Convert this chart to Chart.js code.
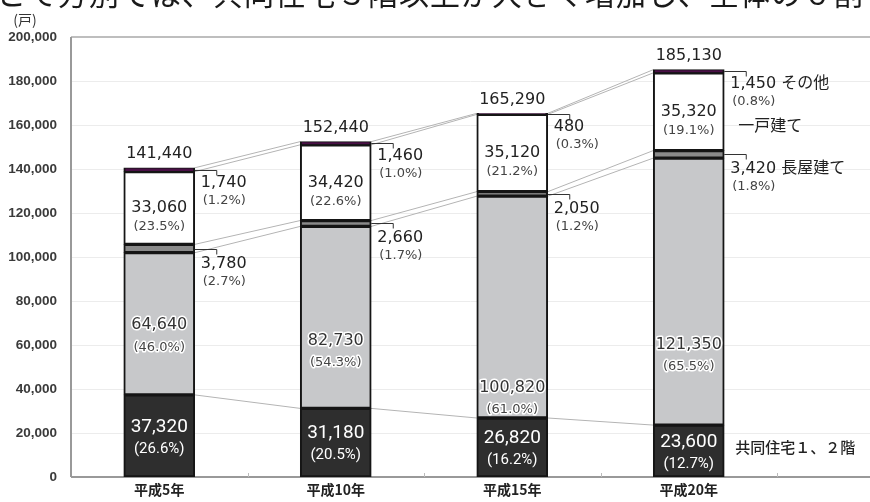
<!DOCTYPE html>
<html>
<head>
<meta charset="utf-8">
<script src="https://cdn.jsdelivr.net/npm/chart.js@4/dist/chart.umd.min.js"></script>
<style>
  html, body { margin: 0; padding: 0; background: #fff; overflow: hidden; }
  #wrap { width: 870px; height: 502px; position: relative; }
</style>
</head>
<body>
<div id="wrap"><canvas id="c" width="870" height="502"></canvas></div>
<script>
// 建て方別住宅数（戸）
const years = ['平成5年', '平成10年', '平成15年', '平成20年'];
const lowRise  = [37320, 31180, 26820, 23600];    // 共同住宅1、2階
const highRise = [64640, 82730, 100820, 121350];  // 共同住宅3階以上
const rowHouse = [3780, 2660, 2050, 3420];        // 長屋建て
const detached = [33060, 34420, 35120, 35320];    // 一戸建て
const other    = [1740, 1460, 480, 1450];         // その他
const totals   = [141440, 152440, 165290, 185130];

const lowRisePct  = [26.6, 20.5, 16.2, 12.7];
const highRisePct = [46.0, 54.3, 61.0, 65.5];
const rowHousePct = [2.7, 1.7, 1.2, 1.8];
const detachedPct = [23.5, 22.6, 21.2, 19.1];
const otherPct    = [1.2, 1.0, 0.3, 0.8];

const yTicks = [0, 20000, 40000, 60000, 80000, 100000, 120000, 140000, 160000, 180000, 200000];

// where the 3階以上 labels sit inside their (tall) segments, in axis units
const highRiseLabelAt = [69000, 61800, 40400, 60000];

const headline = 'とて方別では、共同住宅３階以上が大きく増加し、全体の６割';

const NUM = '"DejaVu Sans", "Noto Sans CJK JP", sans-serif';
const JP = '"Noto Sans CJK JP", sans-serif';
const NARROW = 'Roboto, "DejaVu Sans", sans-serif';

const fmt = v => v.toLocaleString('en-US');
const pct = v => '(' + v.toFixed(1) + '%)';

function text(ctx, s, x, y, font, color, align, halo) {
  ctx.save();
  ctx.font = font;
  ctx.textAlign = align || 'center';
  ctx.textBaseline = 'middle';
  if (halo) {
    ctx.lineJoin = 'round';
    ctx.lineWidth = 3;
    ctx.strokeStyle = halo;
    ctx.strokeText(s, x, y);
  }
  ctx.fillStyle = color;
  ctx.fillText(s, x, y);
  ctx.restore();
}

const decor = {
  id: 'decor',
  beforeDatasetsDraw(chart) {
    const { ctx, chartArea: a, scales: { y } } = chart;
    const W = chart.width;
    ctx.save();
    // faint horizontal grid
    ctx.strokeStyle = '#ececec';
    ctx.lineWidth = 1;
    yTicks.forEach(t => {
      if (t === 0 || t === 200000) return;
      const py = Math.round(y.getPixelForValue(t)) + 0.5;
      ctx.beginPath(); ctx.moveTo(a.left, py); ctx.lineTo(W, py); ctx.stroke();
    });
    // frame
    ctx.strokeStyle = '#a8a8a8';
    ctx.lineWidth = 1.5;
    ctx.beginPath(); ctx.moveTo(a.left, a.top); ctx.lineTo(W, a.top); ctx.stroke();
    ctx.strokeStyle = '#999';
    ctx.lineWidth = 2;
    ctx.beginPath(); ctx.moveTo(a.left, a.top); ctx.lineTo(a.left, a.bottom); ctx.stroke();
    ctx.beginPath(); ctx.moveTo(a.left, a.bottom); ctx.lineTo(W, a.bottom); ctx.stroke();
    // small marks between categories
    ctx.strokeStyle = '#bbb';
    ctx.lineWidth = 1;
    const step = (a.right - a.left) / years.length;
    for (let k = 1; k <= years.length; k++) {
      const px = Math.round(a.left + k * step) + 0.5;
      ctx.beginPath(); ctx.moveTo(px, a.bottom - 4); ctx.lineTo(px, a.bottom); ctx.stroke();
    }
    // connector lines between neighbouring bars at each stack boundary
    const series = [lowRise, highRise, rowHouse, detached, other];
    ctx.strokeStyle = '#b4b4b4';
    ctx.lineWidth = 1;
    const m0 = chart.getDatasetMeta(0).data;
    for (let i = 0; i < years.length - 1; i++) {
      let c1 = 0, c2 = 0;
      const r = m0[i].x + m0[i].width / 2;
      const l = m0[i + 1].x - m0[i + 1].width / 2;
      series.forEach(s => {
        c1 += s[i]; c2 += s[i + 1];
        ctx.beginPath();
        ctx.moveTo(r, y.getPixelForValue(c1));
        ctx.lineTo(l, y.getPixelForValue(c2));
        ctx.stroke();
      });
    }
    ctx.restore();
  },
  afterDatasetsDraw(chart) {
    const { ctx, scales: { y } } = chart;
    const meta = k => chart.getDatasetMeta(k).data;
    const [mLow, mHigh, mRow, mDet, mOth] = [0, 1, 2, 3, 4].map(meta);

    // headline running off the top edge
    ctx.save();
    ctx.font = '30px ' + JP;
    ctx.letterSpacing = '1px';
    ctx.fillStyle = '#1a1a1a';
    ctx.textBaseline = 'alphabetic';
    ctx.fillText(headline, -4, 5);
    ctx.restore();

    text(ctx, '(戸)', 25, 20, '14px ' + JP, '#333');

    for (let i = 0; i < years.length; i++) {
      const cx = mLow[i].x;
      const right = cx + mLow[i].width / 2;

      // 共同住宅1、2階
      const lm = (mLow[i].y + mLow[i].base) / 2;
      text(ctx, fmt(lowRise[i]), cx, lm - 9, '19px ' + NARROW, '#fff');
      text(ctx, pct(lowRisePct[i]), cx, lm + 13, '15px ' + NARROW, '#fff');

      // 共同住宅3階以上
      const hy = y.getPixelForValue(highRiseLabelAt[i]);
      text(ctx, fmt(highRise[i]), cx, hy, '16px ' + NUM, '#333', 'center', '#fff');
      text(ctx, pct(highRisePct[i]), cx, hy + 22, '13px ' + NUM, '#444', 'center', '#fff');

      // 一戸建て
      const dm = (mDet[i].y + mDet[i].base) / 2;
      text(ctx, fmt(detached[i]), cx, dm, '16px ' + NUM, '#222');
      text(ctx, pct(detachedPct[i]), cx, dm + 19, '13px ' + NUM, '#444');

      // total above the bar
      text(ctx, fmt(totals[i]), cx, mOth[i].y - 14, '16px ' + NUM, '#222');

      // bracketed side labels for the thin segments
      const last = i === years.length - 1;
      [[mOth, other, otherPct, 12, ' その他'], [mRow, rowHouse, rowHousePct, 14, ' 長屋建て']].forEach(([m, vals, pcts, dy, name]) => {
        const mid = Math.round((m[i].y + m[i].base) / 2) + 0.5;
        ctx.save();
        ctx.strokeStyle = '#333';
        ctx.lineWidth = 1;
        ctx.beginPath();
        ctx.moveTo(right, mid);
        ctx.lineTo(right + 22, mid);
        ctx.lineTo(right + 22, mid + 5);
        ctx.stroke();
        ctx.restore();
        text(ctx, fmt(vals[i]) + (last ? name : ''), right + 6, mid + dy, '16px ' + NUM, '#222', 'left');
        text(ctx, pct(pcts[i]), right + 8, mid + dy + 18, '13px ' + NUM, '#444', 'left');
      });

      if (last) {
        text(ctx, '一戸建て', right + 14, dm + 13, '16px ' + JP, '#222', 'left');
        text(ctx, '共同住宅１、２階', right + 11, lm - 4, '500 15px ' + JP, '#222', 'left');
      }
    }
  }
};

const seg = (label, data, bg, border) => ({
  label, data,
  backgroundColor: bg,
  borderColor: '#151515',
  borderWidth: border || 2,
  borderSkipped: false,
  barThickness: 71
});

new Chart(document.getElementById('c'), {
  type: 'bar',
  data: {
    labels: years,
    datasets: [
      seg('共同住宅1、2階', lowRise, '#2e2e2e'),
      seg('共同住宅3階以上', highRise, '#c7c8ca'),
      seg('長屋建て', rowHouse, '#8a8a8a'),
      seg('一戸建て', detached, '#ffffff'),
      seg('その他', other, '#4a1046', { top: 1, bottom: 1, left: 2, right: 2 })
    ]
  },
  options: {
    responsive: false,
    animation: false,
    devicePixelRatio: 1,
    layout: { padding: { top: 37, right: 93, left: 0, bottom: 0 } },
    plugins: { legend: { display: false }, tooltip: { enabled: false }, title: { display: false } },
    scales: {
      x: {
        stacked: true,
        grid: { display: false, drawTicks: false },
        border: { display: false },
        ticks: { color: '#222', font: { family: JP, size: 14, weight: 'bold' }, padding: 4 },
        afterFit: s => { s.height = 25; }
      },
      y: {
        stacked: true,
        min: 0,
        max: 200000,
        afterBuildTicks: s => { s.ticks = yTicks.map(v => ({ value: v })); },
        grid: { display: false, drawTicks: false },
        border: { display: false },
        ticks: {
          color: '#3a3a3a',
          padding: 14,
          font: { family: '"Liberation Sans", Arial, sans-serif', size: 13.5, weight: 'bold' },
          callback: v => fmt(v)
        },
        afterFit: s => { s.width = 71; }
      }
    }
  },
  plugins: [decor]
});
</script>
</body>
</html>
